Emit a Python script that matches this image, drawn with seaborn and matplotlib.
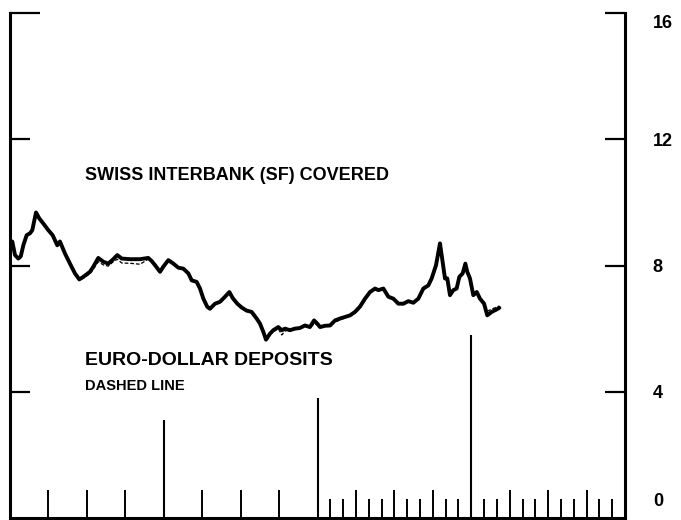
import matplotlib
matplotlib.use("Agg")
import matplotlib.pyplot as plt
import seaborn as sns
import pandas as pd

# -----------------------------------------------
# data (months from start of period, percent per annum)
# -----------------------------------------------
months = [0.00, 0.18, 0.39, 0.65, 0.84, 1.04, 1.30, 1.56, 1.74, 2.03,
          2.29, 2.60, 2.99, 3.33, 3.69, 3.90, 4.29, 4.68, 5.07, 5.41,
          5.72, 6.24, 6.50, 6.89, 7.28, 7.67, 8.06, 8.37, 8.72, 9.37,
          10.15, 10.79, 11.06, 11.32, 11.71, 11.96, 12.36, 12.75, 13.14, 13.53,
          13.92, 14.18, 14.57, 14.83, 15.09, 15.40, 15.61, 16.00, 16.39, 16.78,
          17.12, 17.38, 17.74, 18.08, 18.47, 18.86, 19.25, 19.51, 19.77, 19.98,
          20.29, 20.55, 20.94, 21.21, 21.46, 21.85, 22.24, 22.63, 23.02, 23.41,
          23.73, 23.98, 24.20, 24.59, 24.98, 25.37, 25.76, 26.15, 26.54, 26.93,
          27.32, 27.71, 28.10, 28.49, 28.75, 29.14, 29.53, 29.92, 30.31, 30.70,
          31.09, 31.48, 31.87, 32.26, 32.65, 32.91, 33.25, 33.56, 33.69, 33.95,
          34.13, 34.34, 34.60, 34.86, 35.07, 35.33, 35.54, 35.69, 35.90, 36.16,
          36.43, 36.68, 37.00, 37.25, 37.60, 37.99, 38.19]

swiss_covered = [8.76, 8.76, 8.33, 8.22, 8.29, 8.64, 8.96, 9.02, 9.12, 9.68,
                 9.49, 9.33, 9.12, 8.96, 8.64, 8.76, 8.38, 8.06, 7.75, 7.56,
                 7.64, 7.80, 7.96, 8.24, 8.12, 8.06, 8.20, 8.33, 8.22, 8.20,
                 8.20, 8.24, 8.14, 8.01, 7.80, 7.96, 8.17, 8.06, 7.93, 7.90,
                 7.75, 7.53, 7.48, 7.27, 6.95, 6.69, 6.63, 6.79, 6.85, 7.01,
                 7.16, 6.97, 6.79, 6.67, 6.57, 6.53, 6.32, 6.16, 5.90, 5.65,
                 5.84, 5.95, 6.05, 5.95, 6.00, 5.95, 6.00, 6.02, 6.10, 6.05,
                 6.26, 6.16, 6.05, 6.09, 6.10, 6.26, 6.32, 6.37, 6.42, 6.53,
                 6.70, 6.95, 7.16, 7.27, 7.22, 7.27, 7.01, 6.95, 6.79, 6.79,
                 6.87, 6.82, 6.95, 7.27, 7.37, 7.59, 8.01, 8.70, 8.33, 7.59,
                 7.59, 7.06, 7.22, 7.27, 7.64, 7.75, 8.06, 7.80, 7.59, 7.06,
                 7.16, 6.95, 6.79, 6.42, 6.53, 6.61, 6.66]

euro_dollar = [8.76, 8.70, 8.36, 8.25, 8.30, 8.60, 8.92, 9.00, 9.14, 9.62,
               9.45, 9.30, 9.08, 8.92, 8.66, 8.72, 8.35, 8.04, 7.72, 7.53,
               7.60, 7.74, 7.88, 8.12, 8.02, 7.98, 8.12, 8.20, 8.08, 8.07,
               8.04, 8.20, 8.12, 8.00, 7.82, 7.94, 8.14, 8.05, 7.92, 7.88,
               7.72, 7.50, 7.46, 7.25, 6.93, 6.70, 6.64, 6.76, 6.82, 6.98,
               7.12, 6.92, 6.80, 6.66, 6.56, 6.50, 6.30, 6.14, 5.88, 5.66,
               5.82, 5.90, 6.00, 5.80, 5.92, 5.98, 5.96, 6.04, 6.06, 6.02,
               6.15, 6.12, 6.08, 6.05, 6.14, 6.20, 6.28, 6.34, 6.44, 6.50,
               6.66, 6.90, 7.12, 7.24, 7.24, 7.22, 7.04, 6.92, 6.80, 6.76,
               6.84, 6.84, 6.92, 7.22, 7.34, 7.55, 7.95, 8.62, 8.36, 7.62,
               7.56, 7.10, 7.18, 7.30, 7.60, 7.78, 8.00, 7.84, 7.56, 7.10,
               7.12, 6.98, 6.84, 6.55, 6.62, 6.68, 6.72]

year_marks = [12, 24, 36]
year_mark_heights = [3.09, 3.81, 5.79]
quarter_ticks = [3, 6, 9, 15, 18, 21, 27, 30, 33, 39, 42, 45]
month_ticks = [25, 26, 28, 29, 31, 32, 34, 35, 37, 38, 40, 41, 43, 44, 46, 47]
y_ticks = [4, 8, 12, 16]
y_labels = ["0", "4", "8", "12", "16"]
y_label_values = [0, 4, 8, 12, 16]

df = pd.DataFrame({"month": months, "swiss": swiss_covered, "euro": euro_dollar})

# -----------------------------------------------
# figure
# -----------------------------------------------
sns.set_theme(style="white")
plt.rcParams["font.family"] = ["Liberation Sans", "DejaVu Sans"]

fig = plt.figure(figsize=(6.81, 5.20), dpi=100)
ax = fig.add_axes([10 / 681, 2 / 520, 615 / 681, 505 / 520])

sns.lineplot(data=df, x="month", y="swiss", ax=ax, color="black", lw=2.8,
             sort=False, estimator=None)
sns.lineplot(data=df, x="month", y="euro", ax=ax, color="black", lw=0.9,
             sort=False, estimator=None, linestyle=(0, (3, 1.5)))

ax.vlines(year_marks, 0, year_mark_heights, color="black", lw=1.5)

ax.set_xlim(0, 48)
ax.set_ylim(0, 16)
ax.set_xlabel("")
ax.set_ylabel("")

for side in ["left", "right", "bottom"]:
    ax.spines[side].set_visible(True)
    ax.spines[side].set_color("black")
    ax.spines[side].set_linewidth(2.2)
ax.spines["top"].set_visible(False)

ax.set_xticks(quarter_ticks)
ax.set_xticks(month_ticks, minor=True)
ax.tick_params(axis="x", which="major", bottom=True, direction="in",
               length=20, width=1.4, color="black", labelbottom=False)
ax.tick_params(axis="x", which="minor", bottom=True, direction="in",
               length=13.5, width=1.4, color="black")

ax.set_yticks(y_ticks)
ax.tick_params(axis="y", left=True, right=True, direction="in",
               length=14.4, width=1.6, color="black",
               labelleft=False, labelright=False)
# top-left tick is longer in the original
ax.yaxis.get_major_ticks()[-1].tick1line.set_markersize(21.6)

for lab, v in zip(y_labels, y_label_values):
    va, dy = "center_baseline", 0
    if v == 16:
        va, dy = "top", -1.5
    if v == 0:
        va, dy = "bottom", 6
    ax.annotate(lab, xy=(1, v), xycoords=ax.get_yaxis_transform(),
                xytext=(20, dy), textcoords="offset points",
                ha="left", va=va, fontsize=13, fontweight="bold",
                color="black", annotation_clip=False)

ax.text(5.85, 10.86, "SWISS INTERBANK (SF) COVERED", fontsize=13,
        fontweight="bold", va="center", ha="left", color="black")
ax.text(5.85, 4.98, "EURO-DOLLAR DEPOSITS", fontsize=14,
        fontweight="bold", va="center", ha="left", color="black")
ax.text(5.85, 4.18, "DASHED LINE", fontsize=10.5,
        fontweight="bold", va="center", ha="left", color="black")

fig.savefig("out.png", dpi=100, facecolor="white")
